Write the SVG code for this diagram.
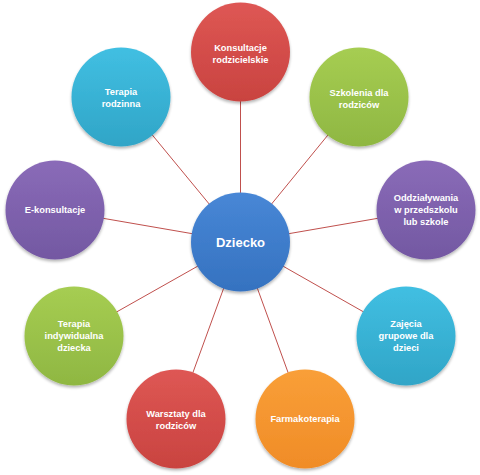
<svg xmlns="http://www.w3.org/2000/svg" width="480" height="475" viewBox="0 0 480 475">
<defs>
<linearGradient id="gRed" x1="0" y1="0" x2="0" y2="1"><stop offset="0" stop-color="#de5754"/><stop offset="1" stop-color="#c94340"/></linearGradient>
<linearGradient id="gGreen" x1="0" y1="0" x2="0" y2="1"><stop offset="0" stop-color="#a6cd52"/><stop offset="1" stop-color="#8fb742"/></linearGradient>
<linearGradient id="gPurple" x1="0" y1="0" x2="0" y2="1"><stop offset="0" stop-color="#8a6bb8"/><stop offset="1" stop-color="#7358a2"/></linearGradient>
<linearGradient id="gAqua" x1="0" y1="0" x2="0" y2="1"><stop offset="0" stop-color="#41bfe2"/><stop offset="1" stop-color="#30a5c7"/></linearGradient>
<linearGradient id="gOrange" x1="0" y1="0" x2="0" y2="1"><stop offset="0" stop-color="#f99f38"/><stop offset="1" stop-color="#f08c27"/></linearGradient>
<linearGradient id="gBlue" x1="0" y1="0" x2="0" y2="1"><stop offset="0" stop-color="#4887d6"/><stop offset="1" stop-color="#3572c0"/></linearGradient>
<filter id="sh" x="-20%" y="-20%" width="140%" height="140%"><feGaussianBlur in="SourceAlpha" stdDeviation="1.5"/><feOffset dy="1.5"/><feComponentTransfer><feFuncA type="linear" slope="0.3"/></feComponentTransfer><feMerge><feMergeNode/><feMergeNode in="SourceGraphic"/></feMerge></filter>
</defs>
<style>
.c{filter:url(#sh);}
.t{font-family:"Liberation Sans",Arial,sans-serif;font-weight:bold;font-size:9.3px;fill:#fff;text-anchor:middle;}
.tc{font-family:"Liberation Sans",Arial,sans-serif;font-weight:bold;font-size:13px;fill:#fff;text-anchor:middle;}
.ln{stroke:#c0504d;stroke-width:1;fill:none;}
</style>
<rect width="480" height="475" fill="#fff"/>
<g id="connectors">
<line class="ln" x1="240.5" y1="242" x2="240.5" y2="52"/>
<line class="ln" x1="240.5" y1="242" x2="359" y2="97"/>
<line class="ln" x1="240.5" y1="242" x2="426" y2="210"/>
<line class="ln" x1="240.5" y1="242" x2="406" y2="336"/>
<line class="ln" x1="240.5" y1="242" x2="305" y2="419"/>
<line class="ln" x1="240.5" y1="242" x2="176" y2="419"/>
<line class="ln" x1="240.5" y1="242" x2="74" y2="336"/>
<line class="ln" x1="240.5" y1="242" x2="55" y2="210"/>
<line class="ln" x1="240.5" y1="242" x2="121" y2="97"/>
</g>
<g id="n1"><circle class="c" cx="240.5" cy="52" r="49.5" fill="url(#gRed)"/><text class="t" x="240.5" y="51">Konsultacje</text><text class="t" x="240.5" y="63">rodzicielskie</text></g>
<g id="n2"><circle class="c" cx="359" cy="97" r="49.5" fill="url(#gGreen)"/><text class="t" x="359" y="96">Szkolenia dla</text><text class="t" x="359" y="108">rodziców</text></g>
<g id="n3"><circle class="c" cx="426" cy="210" r="49.5" fill="url(#gPurple)"/><text class="t" x="426" y="201">Oddziaływania</text><text class="t" x="426" y="213">w przedszkolu</text><text class="t" x="426" y="225">lub szkole</text></g>
<g id="n4"><circle class="c" cx="406" cy="336" r="49.5" fill="url(#gAqua)"/><text class="t" x="406" y="327">Zajęcia</text><text class="t" x="406" y="339">grupowe dla</text><text class="t" x="406" y="351">dzieci</text></g>
<g id="n5"><circle class="c" cx="305" cy="419" r="49.5" fill="url(#gOrange)"/><text class="t" x="305" y="422">Farmakoterapia</text></g>
<g id="n6"><circle class="c" cx="176" cy="419" r="49.5" fill="url(#gRed)"/><text class="t" x="176" y="417">Warsztaty dla</text><text class="t" x="176" y="429">rodziców</text></g>
<g id="n7"><circle class="c" cx="74" cy="336" r="49.5" fill="url(#gGreen)"/><text class="t" x="74" y="327">Terapia</text><text class="t" x="74" y="339">indywidualna</text><text class="t" x="74" y="351">dziecka</text></g>
<g id="n8"><circle class="c" cx="55" cy="210" r="49.5" fill="url(#gPurple)"/><text class="t" x="55" y="213">E-konsultacje</text></g>
<g id="n9"><circle class="c" cx="121" cy="97" r="49.5" fill="url(#gAqua)"/><text class="t" x="121" y="95">Terapia</text><text class="t" x="121" y="107">rodzinna</text></g>
<g id="center"><circle class="c" cx="240.5" cy="242" r="49.5" fill="url(#gBlue)"/><text class="tc" x="240.5" y="246.5">Dziecko</text></g>
</svg>
